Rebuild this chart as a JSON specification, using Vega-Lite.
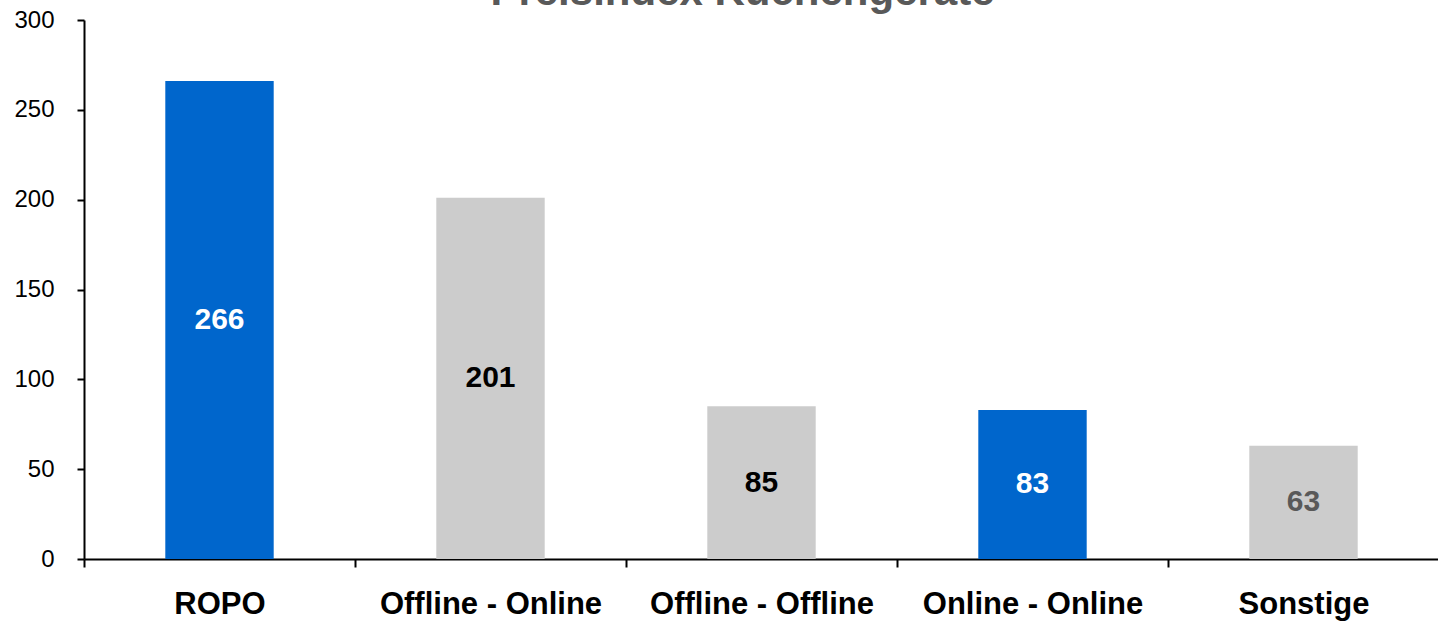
{
  "$schema": "https://vega.github.io/schema/vega-lite/v6.json",
  "width": 1355,
  "height": 539,
  "autosize": {"type": "none"},
  "padding": {"left": 84, "top": 20, "right": 0, "bottom": 63},
  "background": "white",
  "title": {
    "text": "Preisindex Küchengeräte",
    "font": "Liberation Sans",
    "fontSize": 42,
    "fontWeight": "bold",
    "color": "#595959",
    "anchor": "middle",
    "frame": "group",
    "baseline": "alphabetic",
    "offset": 0,
    "dx": -19,
    "dy": 39
  },
  "config": {
    "view": {"stroke": null},
    "font": "Liberation Sans"
  },
  "data": {
    "values": [
      {"kategorie": "ROPO", "wert": 266},
      {"kategorie": "Offline - Online", "wert": 201},
      {"kategorie": "Offline - Offline", "wert": 85},
      {"kategorie": "Online - Online", "wert": 83},
      {"kategorie": "Sonstige", "wert": 63}
    ]
  },
  "encoding": {
    "x": {
      "field": "kategorie",
      "type": "nominal",
      "sort": null,
      "scale": {"paddingInner": 0, "paddingOuter": 0},
      "axis": {
        "title": null,
        "labelAngle": 0,
        "labelFont": "Liberation Sans",
        "labelFontSize": 31,
        "labelFontWeight": "bold",
        "labelColor": "#000000",
        "labelPadding": 22,
        "labelLimit": 0,
        "tickBand": "extent",
        "tickSize": 8,
        "tickWidth": 2,
        "tickColor": "#000000",
        "domainColor": "#000000",
        "domainWidth": 2,
        "grid": false
      }
    }
  },
  "layer": [
    {
      "mark": {"type": "bar", "width": {"band": 0.4}},
      "encoding": {
        "y": {
          "field": "wert",
          "type": "quantitative",
          "scale": {"domain": [0, 300], "nice": false},
          "axis": {
            "title": null,
            "values": [0, 50, 100, 150, 200, 250, 300],
            "labelFont": "Liberation Sans",
            "labelFontSize": 24,
            "labelColor": "#000000",
            "labelPadding": 23,
            "tickSize": 7,
            "tickWidth": 2,
            "tickColor": "#000000",
            "domainColor": "#000000",
            "domainWidth": 2,
            "grid": false
          }
        },
        "color": {
          "field": "kategorie",
          "type": "nominal",
          "scale": {
            "domain": ["ROPO", "Offline - Online", "Offline - Offline", "Online - Online", "Sonstige"],
            "range": ["#0066CC", "#CCCCCC", "#CCCCCC", "#0066CC", "#CCCCCC"]
          },
          "legend": null
        }
      }
    },
    {
      "mark": {"type": "text", "font": "Liberation Sans", "fontSize": 30, "fontWeight": "bold", "baseline": "middle", "align": "center"},
      "encoding": {
        "y": {
          "field": "wert",
          "type": "quantitative",
          "scale": {"domain": [0, 600], "nice": false},
          "axis": null
        },
        "text": {"field": "wert", "type": "quantitative"},
        "color": {
          "field": "kategorie",
          "type": "nominal",
          "scale": {
            "domain": ["ROPO", "Offline - Online", "Offline - Offline", "Online - Online", "Sonstige"],
            "range": ["#FFFFFF", "#000000", "#000000", "#FFFFFF", "#595959"]
          },
          "legend": null
        }
      }
    }
  ],
  "resolve": {"scale": {"color": "independent", "y": "independent"}}
}
